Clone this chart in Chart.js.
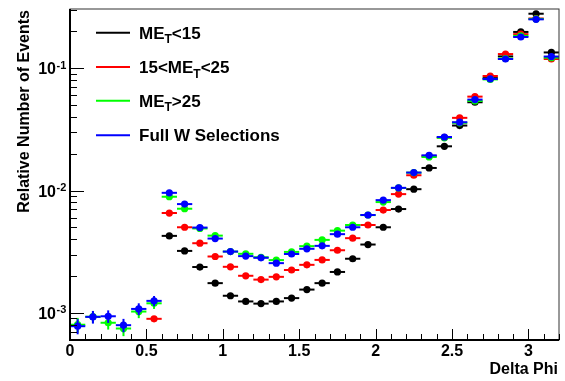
<!DOCTYPE html>
<html>
<head>
<meta charset="utf-8">
<script src="https://cdn.jsdelivr.net/npm/chart.js@4.4.1/dist/chart.umd.min.js"></script>
<style>
  html, body { margin: 0; padding: 0; background: #ffffff; }
  #wrap { width: 565px; height: 381px; }
</style>
</head>
<body>
<div id="wrap"><canvas id="c" width="565" height="381"></canvas></div>
<script>
// Delta phi bins (width 0.1), given by their centres
const binCenters = [0.05, 0.15, 0.25, 0.35, 0.45, 0.55, 0.65, 0.75, 0.85, 0.95,
                    1.05, 1.15, 1.25, 1.35, 1.45, 1.55, 1.65, 1.75, 1.85, 1.95,
                    2.05, 2.15, 2.25, 2.35, 2.45, 2.55, 2.65, 2.75, 2.85, 2.95,
                    3.05, 3.15];
const binHalfWidth = 0.05;

// Relative number of events per bin (null = empty bin)
const metLow = [null, null, null, null, null, null, 0.00426, 0.00321, 0.00237, 0.00175,
                0.00138, 0.00124, 0.00119, 0.00124, 0.00132, 0.00155, 0.00175, 0.00216, 0.00277, 0.00362,
                0.00501, 0.00706, 0.01026, 0.0153, 0.0230, 0.0340, 0.0527, 0.083, 0.125, 0.198,
                0.279, 0.1346];
const metMid = [null, null, null, null, null, 0.000894, 0.00655, 0.00501, 0.00371, 0.00289,
                0.00238, 0.00201, 0.00187, 0.00197, 0.00224, 0.00247, 0.00271, 0.00325, 0.00408, 0.00523,
                0.00693, 0.00935, 0.01334, 0.0192, 0.0272, 0.0393, 0.0586, 0.0864, 0.1306, 0.190,
                0.255, 0.119];
const metHigh = [0.00080, 0.00093, 0.00083, 0.000745, 0.001025, 0.001197, 0.0089, 0.0071, 0.0049, 0.00428,
                 0.00317, 0.00304, 0.00285, 0.0027, 0.00315, 0.00351, 0.00395, 0.0047, 0.00523, 0.0063,
                 0.00805, 0.0105, 0.0140, 0.0188, 0.0270, 0.0358, 0.054, 0.081, 0.120, 0.184,
                 0.253, 0.122];
const fullW = [0.000778, 0.000927, 0.000938, 0.000793, 0.001077, 0.001253, 0.00958, 0.00775, 0.00498, 0.00405,
               0.00317, 0.00291, 0.00282, 0.00255, 0.00303, 0.00334, 0.00353, 0.00440, 0.00501, 0.00631,
               0.00835, 0.01052, 0.01403, 0.0194, 0.0274, 0.0362, 0.0554, 0.0817, 0.119, 0.180,
               0.251, 0.1246];

// Statistical errors on the low-statistics bins (null = smaller than the marker)
const metHighErr = [0.00011, 0.00010, 0.00010, 0.00010, 0.00012, 0.00012];
const fullWErr   = [0.00011, 0.00011, 0.00011, 0.00010, 0.00012, 0.00012];

// Series labels ("_T" marks a subscript T)
const seriesLabels = ['ME_T<15', '15<ME_T<25', 'ME_T>25', 'Full W Selections'];
const seriesColors = ['#000000', '#ff0000', '#00ff00', '#0000ff'];

// Axis ticks and titles
const xMajorTicks = [0, 0.5, 1, 1.5, 2, 2.5, 3];
const xTickLabels = ['0', '0.5', '1', '1.5', '2', '2.5', '3'];
const yMajorTicks = [0.001, 0.01, 0.1];
const yTickExponents = ['-3', '-2', '-1'];
const xTitle = 'Delta Phi';
const yTitle = 'Relative Number of Events';

const FONT = '"Liberation Sans", Arial, Helvetica, sans-serif';

function toPoints(values) {
  const pts = [];
  values.forEach((v, i) => { if (v !== null) pts.push({ x: binCenters[i], y: v }); });
  return pts;
}

const seriesValues = [metLow, metMid, metHigh, fullW];
const seriesErrors = [[], [], metHighErr, fullWErr];

const datasets = seriesValues.map((vals, k) => ({
  label: seriesLabels[k],
  data: toPoints(vals),
  errors: seriesErrors[k],
  values: vals,
  showLine: false,
  pointRadius: 3.6,
  pointHoverRadius: 3.6,
  pointStyle: 'circle',
  pointBackgroundColor: seriesColors[k],
  pointBorderWidth: 0,
  borderColor: seriesColors[k],
  backgroundColor: seriesColors[k],
  order: 3 - k
}));

// Horizontal bin-width bars and vertical error bars, drawn under each series' markers
const errorBars = {
  id: 'errorBars',
  beforeDatasetDraw(chart, args) {
    const ds = chart.data.datasets[args.index];
    const xs = chart.scales.x, ys = chart.scales.y;
    const ctx = chart.ctx;
    ctx.save();
    ctx.strokeStyle = ds.borderColor;
    ctx.lineWidth = 2;
    ds.values.forEach((v, i) => {
      if (v === null) return;
      const c = binCenters[i];
      const py = ys.getPixelForValue(v);
      ctx.beginPath();
      ctx.moveTo(xs.getPixelForValue(c - binHalfWidth), py);
      ctx.lineTo(xs.getPixelForValue(c + binHalfWidth), py);
      ctx.stroke();
      const e = ds.errors[i];
      if (e) {
        const px = xs.getPixelForValue(c);
        ctx.beginPath();
        ctx.moveTo(px, ys.getPixelForValue(v - e));
        ctx.lineTo(px, ys.getPixelForValue(v + e));
        ctx.stroke();
      }
    });
    ctx.restore();
  }
};

function drawRichText(ctx, text, x, y, size) {
  // draws text where "_X" renders X as a subscript
  let cx = x;
  for (let i = 0; i < text.length; i++) {
    const ch = text[i];
    if (ch === '_' && i + 1 < text.length) {
      const sub = text[i + 1];
      ctx.font = 'bold ' + Math.round(size * 0.68) + 'px ' + FONT;
      ctx.fillText(sub, cx, y + size * 0.27);
      cx += ctx.measureText(sub).width;
      i++;
    } else {
      ctx.font = 'bold ' + size + 'px ' + FONT;
      ctx.fillText(ch, cx, y);
      cx += ctx.measureText(ch).width;
    }
  }
}

// Frame, axes, ticks, titles and legend
const frameAxes = {
  id: 'frameAxes',
  afterDraw(chart) {
    const ctx = chart.ctx;
    const a = chart.chartArea;
    const xs = chart.scales.x, ys = chart.scales.y;
    ctx.save();
    ctx.fillStyle = '#000';
    ctx.strokeStyle = '#000';

    // frame
    ctx.lineWidth = 1;
    ctx.strokeStyle = '#333';
    ctx.strokeRect(a.left, a.top, a.right - a.left, a.bottom - a.top);
    ctx.strokeStyle = '#000';
    ctx.lineWidth = 2;
    ctx.beginPath();
    ctx.moveTo(a.left, a.top); ctx.lineTo(a.left, a.bottom); ctx.lineTo(a.right, a.bottom);
    ctx.stroke();

    // x ticks
    ctx.lineWidth = 1;
    for (let t = 0; t <= 32; t++) {
      const v = t / 10;
      const px = Math.round(xs.getPixelForValue(v)) + 0.5;
      const major = t % 5 === 0;
      ctx.beginPath();
      ctx.moveTo(px, a.bottom);
      ctx.lineTo(px, a.bottom - (major ? 11 : 6));
      ctx.stroke();
    }
    ctx.font = 'bold 16px ' + FONT;
    ctx.textAlign = 'center';
    ctx.textBaseline = 'alphabetic';
    xMajorTicks.forEach((v, i) => {
      ctx.fillText(xTickLabels[i], xs.getPixelForValue(v), 356);
    });

    // y ticks (log)
    for (let d = -4; d <= 0; d++) {
      for (let m = 1; m <= 9; m++) {
        const v = m * Math.pow(10, d);
        if (v < ys.min || v > ys.max) continue;
        const py = Math.round(ys.getPixelForValue(v)) + 0.5;
        ctx.beginPath();
        ctx.moveTo(a.left, py);
        ctx.lineTo(a.left + (m === 1 ? 14 : 7), py);
        ctx.stroke();
      }
    }
    yMajorTicks.forEach((v, i) => {
      const py = ys.getPixelForValue(v);
      ctx.textAlign = 'right';
      ctx.font = 'bold 16px ' + FONT;
      ctx.fillText('10', 56, py + 6);
      ctx.textAlign = 'left';
      ctx.font = 'bold 11px ' + FONT;
      ctx.fillText(yTickExponents[i], 56.5, py + 0.5);
    });

    // axis titles
    ctx.font = 'bold 16px ' + FONT;
    ctx.textAlign = 'right';
    ctx.fillText(xTitle, 558, 374);
    ctx.save();
    ctx.translate(29, 10);
    ctx.rotate(-Math.PI / 2);
    ctx.textAlign = 'right';
    ctx.fillText(yTitle, 0, 0);
    ctx.restore();

    // legend
    const legendY = [32.7, 67, 100.7, 135.3];
    ctx.textAlign = 'left';
    seriesLabels.forEach((lab, k) => {
      ctx.strokeStyle = seriesColors[k];
      ctx.lineWidth = 2;
      ctx.beginPath();
      ctx.moveTo(96, legendY[k]);
      ctx.lineTo(130, legendY[k]);
      ctx.stroke();
      ctx.fillStyle = '#000';
      drawRichText(ctx, lab, 139, legendY[k] + 6, 17);
    });
    ctx.restore();
  }
};

new Chart(document.getElementById('c'), {
  type: 'scatter',
  data: { datasets },
  plugins: [errorBars, frameAxes],
  options: {
    responsive: false,
    animation: false,
    events: [],
    layout: { padding: { left: 70, top: 9, right: 6, bottom: 41 } },
    plugins: { legend: { display: false }, tooltip: { enabled: false } },
    scales: {
      x: { type: 'linear', min: 0, max: 3.2, display: false },
      y: { type: 'logarithmic', min: 0.000606, max: 0.305, display: false }
    }
  }
});
</script>
</body>
</html>
